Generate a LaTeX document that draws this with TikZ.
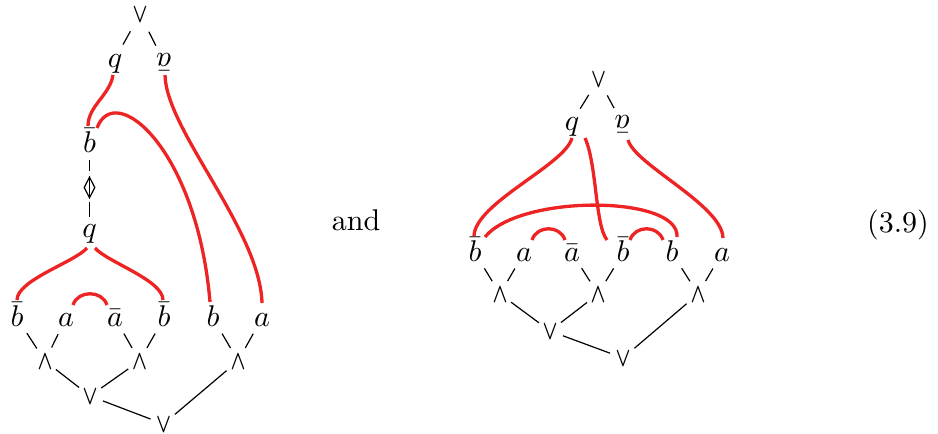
\documentclass[tikz,border=0pt]{standalone}
\usepackage{graphicx}
\usetikzlibrary{calc,shapes.geometric}
\definecolor{wire}{RGB}{238,36,36}
\newcommand{\orv}{\scalebox{0.65}[0.9]{\boldmath$\vee$}}
\newcommand{\andw}{\scalebox{0.65}[0.9]{\boldmath$\wedge$}}
\newcommand{\tq}{\raisebox{\depth}{\rotatebox{180}{$\bar a$}}}
\tikzset{
  lab/.style={inner sep=0pt, text height=6pt, text depth=0pt, anchor=base},
  conn/.style={line width=0.4pt, shorten <=4.6pt, shorten >=4.6pt},
  lk/.style={line width=0.4pt, shorten <=6pt, shorten >=5pt},
  wirel/.style={draw=wire, line width=1.1pt},
  dmd/.style={draw, diamond, inner sep=0pt, minimum width=3.7pt, minimum height=7pt, line width=0.4pt},
}
\begin{document}
\begin{tikzpicture}[x=0.33333pt, y=-0.33333pt]
\useasboundingbox (0,0) rectangle (938,434);
% ---------------- left diagram ----------------
\node[lab] (V1) at (140,23) {\orv};
\node[lab] (q1) at (115,68) {$q$};
\node[lab] (p1) at (164,71) {\tq};
\node[lab] (bb1) at (89.5,153) {$\bar b$};
\node[dmd] (dm) at (89.5,187.5) {};
\node[lab] (q1b) at (89.5,238) {$q$};
\node[lab] (L1) at (17,327) {$\bar b$};
\node[lab] (L2) at (66,327) {$a$};
\node[lab] (L3) at (115,327) {$\bar a$};
\node[lab] (L4) at (164,327) {$\bar b$};
\node[lab] (L5) at (213,327) {$b$};
\node[lab] (L6) at (262,327) {$a$};
\node[lab] (W1) at (45,370) {\andw};
\node[lab] (W2) at (139.5,370) {\andw};
\node[lab] (W3) at (238,370) {\andw};
\node[lab] (O1) at (90,405) {\orv};
\node[lab] (O2) at (163.5,433) {\orv};

\draw[lk, shorten <=6.6pt, shorten >=5.5pt] (V1.center) -- (q1.center);
\draw[lk, shorten <=6.6pt, shorten >=6.1pt] (V1.center) -- (p1.center);
\draw[line width=0.4pt] (dm.north) -- (dm.south);
\draw[lk, shorten <=5.3pt, shorten >=1.7pt] (bb1.center) -- (dm.north);
\draw[lk, shorten <=1.3pt, shorten >=4pt] (dm.south) -- (q1b.center);
\draw[lk] (L1.center) -- (W1.center);
\draw[lk] (L2.center) -- (W1.center);
\draw[lk] (L3.center) -- (W2.center);
\draw[lk] (L4.center) -- (W2.center);
\draw[lk] (L5.center) -- (W3.center);
\draw[lk] (L6.center) -- (W3.center);
\draw[conn] (W1.center) -- (O1.center);
\draw[conn] (W2.center) -- (O1.center);
\draw[conn] (O1.center) -- (O2.center);
\draw[conn, shorten <=5pt, shorten >=5pt] (W3.center) -- (O2.center);

\draw[wirel] ([shift={(-2,7)}]q1.base) .. controls +(-3,20) and +(0,-20) .. ([shift={(-1.5,-27)}]bb1.base);
\draw[wirel] ([shift={(7.5,-25)}]bb1.base) .. controls +(18,-48) and +(-13,-153) .. ([shift={(-3,-25)}]L5.base);
\draw[wirel] ([shift={(1,4)}]p1.base) .. controls +(1,55) and +(-2,-73) .. ([shift={(0,-24)}]L6.base);
\draw[wirel] ([shift={(-2.5,10)}]q1b.base) .. controls +(-12,14) and +(0,-20) .. ([shift={(0,-27)}]L1.base);
\draw[wirel] ([shift={(5.5,10)}]q1b.base) .. controls +(12,14) and +(0,-20) .. ([shift={(-1,-27)}]L4.base);
\draw[wirel] ([shift={(7,-22)}]L2.base) .. controls +(5,-15) and +(-5,-15) .. ([shift={(-8,-22)}]L3.base);

% ---------------- middle texts ----------------
\node[anchor=base] (and) at (356,231) {and};
\node[anchor=base] (eqn) at (898,233) {(3.9)};

% ---------------- right diagram ----------------
\node[lab] (V2) at (598.5,88) {\orv};
\node[lab] (q2) at (572,131) {$q$};
\node[lab] (p2) at (622.5,133) {\tq};
\node[lab] (R1) at (475,262) {$\bar b$};
\node[lab] (R2) at (524,262) {$a$};
\node[lab] (R3) at (572,262) {$\bar a$};
\node[lab] (R4) at (623,262) {$\bar b$};
\node[lab] (R5) at (672,262) {$b$};
\node[lab] (R6) at (722,262) {$a$};
\node[lab] (X1) at (500,303) {\andw};
\node[lab] (X2) at (598,303) {\andw};
\node[lab] (X3) at (698,303) {\andw};
\node[lab] (Y1) at (550,340) {\orv};
\node[lab] (Y2) at (623,367) {\orv};

\draw[lk, shorten <=6.2pt, shorten >=5.2pt] (V2.center) -- (q2.center);
\draw[lk, shorten <=6.2pt, shorten >=6pt] (V2.center) -- (p2.center);
\draw[lk] (R1.center) -- (X1.center);
\draw[lk] (R2.center) -- (X1.center);
\draw[lk] (R3.center) -- (X2.center);
\draw[lk] (R4.center) -- (X2.center);
\draw[lk] (R5.center) -- (X3.center);
\draw[lk] (R6.center) -- (X3.center);
\draw[conn] (X1.center) -- (Y1.center);
\draw[conn] (X2.center) -- (Y1.center);
\draw[conn] (Y1.center) -- (Y2.center);
\draw[conn, shorten <=5pt, shorten >=5pt] (X3.center) -- (Y2.center);

\draw[wirel] ([shift={(0,7)}]q2.base) .. controls +(-7,27) and +(1,-33) .. ([shift={(-1,-26)}]R1.base);
\draw[wirel] ([shift={(13,7)}]q2.base) .. controls +(12,27) and +(-12,-15) .. ([shift={(-16,-22)}]R4.base);
\draw[wirel] ([shift={(5.5,7)}]p2.base) .. controls +(7,25) and +(-1,-33) .. ([shift={(1,-24)}]R6.base);
\draw[wirel] ([shift={(10,-25)}]R1.base) .. controls +(35,-43) and +(3,-42) .. ([shift={(5,-25)}]R5.base);
\draw[wirel] ([shift={(8,-22)}]R2.base) .. controls +(5,-15) and +(-5,-15) .. ([shift={(-7,-22)}]R3.base);
\draw[wirel] ([shift={(7,-22)}]R4.base) .. controls +(5,-15) and +(-5,-15) .. ([shift={(-9,-22)}]R5.base);
\end{tikzpicture}
\end{document}
